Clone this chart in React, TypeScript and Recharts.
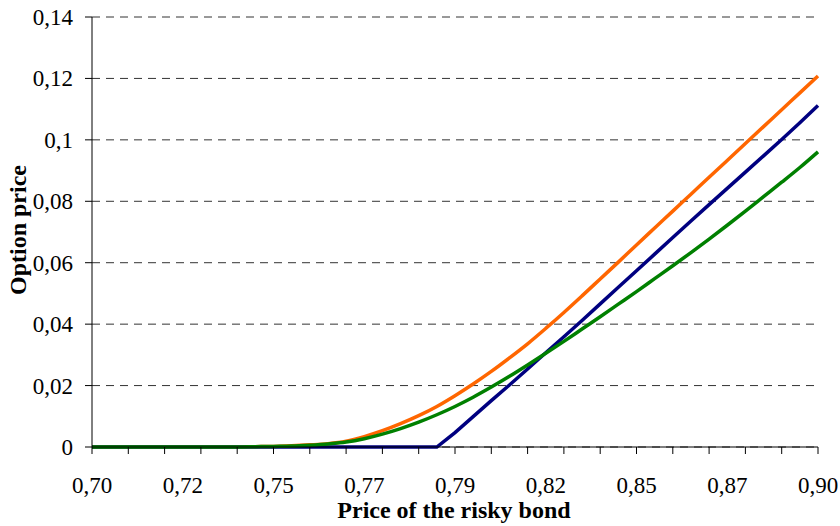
import { LineChart, Line, XAxis, YAxis, CartesianGrid } from "recharts";

// 41 points along the bond-price axis; a label on every 5th point, a tick mark on every 2nd
const xLabels = ["0,70", "0,72", "0,75", "0,77", "0,79", "0,82", "0,85", "0,87", "0,90"];

const orangeSeries = [
  0, 0, 0, 0, 0, 0, 0, 0, 0, 0.0001, 0.0002, 0.0004, 0.0007, 0.0011, 0.0019, 0.0034,
  0.0053, 0.0076, 0.0102, 0.0132, 0.0167, 0.0205, 0.0246, 0.029, 0.0336, 0.0386, 0.0438,
  0.0492, 0.0547, 0.0602, 0.0658, 0.0713, 0.0768, 0.0823, 0.0878, 0.0933, 0.0988, 0.1043,
  0.1098, 0.1153, 0.1208,
];

const blueSeries = [
  0, 0, 0, 0, 0, 0, 0, 0, 0, 0, 0, 0, 0, 0, 0, 0, 0, 0, 0, 0, 0.0047, 0.0099, 0.0151,
  0.0202, 0.0254, 0.0307, 0.0359, 0.0412, 0.0466, 0.052, 0.0574, 0.0628, 0.0682, 0.0736,
  0.0789, 0.0842, 0.0895, 0.0948, 0.1001, 0.1056, 0.1112,
];

const greenSeries = [
  0, 0, 0, 0, 0, 0, 0, 0, 0, 0.0001, 0.0002, 0.0003, 0.0006, 0.001, 0.0016, 0.0027,
  0.0042, 0.006, 0.0081, 0.0105, 0.0132, 0.0162, 0.0195, 0.023, 0.0267, 0.0305, 0.0344,
  0.0384, 0.0424, 0.0465, 0.0506, 0.0548, 0.059, 0.0633, 0.0677, 0.0722, 0.0768, 0.0815,
  0.0862, 0.091, 0.0961,
];

const yTicks = [0, 0.02, 0.04, 0.06, 0.08, 0.1, 0.12, 0.14];

const data = orangeSeries.map((v, i) => ({
  i,
  orange: v,
  blue: blueSeries[i],
  green: greenSeries[i],
}));

const FONT = "'Liberation Serif', 'Times New Roman', serif";

function XTick(props: any) {
  const { x, y, payload } = props;
  const idx = Number(payload.value);
  return (
    <g>
      {idx % 2 === 0 && <line x1={x} x2={x} y1={y - 7} y2={y} stroke="#000" strokeWidth={1} />}
      {idx % 5 === 0 && (
        <text x={x} y={y + 39} textAnchor="middle" style={{ fontFamily: FONT, fontSize: 23 }} fill="#000">
          {xLabels[idx / 5]}
        </text>
      )}
    </g>
  );
}

function YTick(props: any) {
  const { x, y, payload } = props;
  return (
    <text x={x} y={y} dy="0.35em" textAnchor="end" style={{ fontFamily: FONT, fontSize: 23 }} fill="#000">
      {String(payload.value).replace(".", ",")}
    </text>
  );
}

export default function App() {
  return (
    <div style={{ position: "absolute", left: 0, top: 0, width: 840, height: 526, background: "#fff" }}>
      <LineChart width={840} height={526} data={data} margin={{ top: 17, right: 22, left: 0, bottom: 0 }}>
        <CartesianGrid vertical={false} stroke="#333" strokeDasharray="8 6" />
        <XAxis
          dataKey="i"
          type="category"
          interval={0}
          height={79}
          tickSize={7}
          tickMargin={0}
          tickLine={false}
          axisLine={{ stroke: "#000" }}
          tick={XTick}
        />
        <YAxis
          width={92}
          domain={[0, 0.14]}
          ticks={yTicks}
          interval={0}
          tickSize={7}
          tickMargin={12}
          tickLine={{ stroke: "#000" }}
          axisLine={{ stroke: "#000" }}
          tick={YTick}
        />
        <Line type="monotone" dataKey="orange" stroke="#FF6600" strokeWidth={3.5} dot={false} isAnimationActive={false} />
        <Line dataKey="blue" stroke="#000080" strokeWidth={3.5} dot={false} isAnimationActive={false} />
        <Line type="monotone" dataKey="green" stroke="#008000" strokeWidth={3.5} dot={false} isAnimationActive={false} />
      </LineChart>
      <div
        style={{
          position: "absolute",
          left: 454,
          top: 512,
          transform: "translate(-50%, -55%)",
          fontFamily: FONT,
          fontWeight: "bold",
          fontSize: 24,
          whiteSpace: "nowrap",
        }}
      >
        Price of the risky bond
      </div>
      <div
        style={{
          position: "absolute",
          left: 18,
          top: 230,
          transform: "translate(-50%, -50%) rotate(-90deg)",
          fontFamily: FONT,
          fontWeight: "bold",
          fontSize: 24,
          whiteSpace: "nowrap",
        }}
      >
        Option price
      </div>
    </div>
  );
}
